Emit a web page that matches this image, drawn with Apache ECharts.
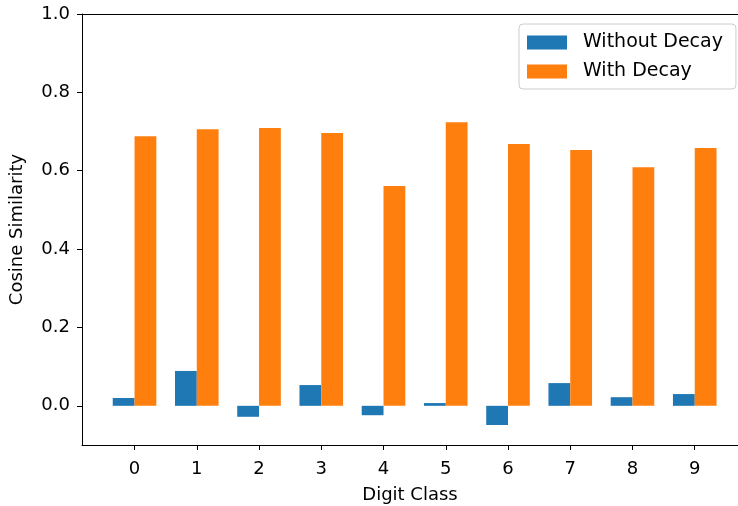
<!DOCTYPE html>
<html>
<head>
<meta charset="utf-8">
<script src="https://cdn.jsdelivr.net/npm/echarts@6/dist/echarts.min.js"></script>
<style>html,body{margin:0;padding:0;background:#fff;}#c{width:738px;height:506px;}</style>
</head>
<body>
<div id="c"></div>
<script>
const categories = [0, 1, 2, 3, 4, 5, 6, 7, 8, 9];
const withoutDecay = [0.020, 0.089, -0.028, 0.053, -0.024, 0.007, -0.049, 0.058, 0.022, 0.030];
const withDecay = [0.688, 0.706, 0.709, 0.696, 0.561, 0.724, 0.668, 0.653, 0.609, 0.658];
const yTicks = [0.0, 0.2, 0.4, 0.6, 0.8, 1.0];
const xTicks = categories;

const font = 'DejaVu Sans';
const xMin = -0.844, xMax = 9.695;
const chart = echarts.init(document.getElementById('c'), null, {renderer: 'canvas'});
chart.setOption({
  animation: false,
  backgroundColor: '#fff',
  grid: {left: 82, top: 14, right: 0, height: 431, show: false, containLabel: false, outerBoundsMode: 'none'},
  legend: {
    orient: 'vertical', left: 519, top: 24,
    padding: [9, 13, 8, 8],
    itemWidth: 40, itemHeight: 14, itemGap: 10,
    icon: 'rect',
    borderColor: '#cccccc', borderWidth: 1, borderRadius: 4,
    backgroundColor: 'rgba(255,255,255,0.8)',
    textStyle: {fontFamily: font, fontSize: 19, color: '#000', padding: [0, 0, 0, 11]},
    data: ['Without Decay', 'With Decay']
  },
  xAxis: [{
    type: 'value', min: xMin, max: xMax,
    name: 'Digit Class', nameLocation: 'middle', nameGap: 41,
    nameTextStyle: {fontFamily: font, fontSize: 18, color: '#000'},
    axisLine: {show: true, onZero: false, lineStyle: {color: '#000', width: 1}},
    axisTick: {show: true, length: 5, lineStyle: {color: '#000'}, customValues: xTicks},
    axisLabel: {fontFamily: font, fontSize: 18, color: '#000', margin: 15, customValues: xTicks, formatter: v => String(Math.round(v))},
    splitLine: {show: false}
  }, {
    type: 'value', min: xMin, max: xMax, position: 'top',
    axisLine: {show: true, onZero: false, lineStyle: {color: '#000', width: 1}},
    axisTick: {show: false}, axisLabel: {show: false}, splitLine: {show: false}
  }],
  yAxis: {
    type: 'value', min: -0.1, max: 1.0,
    name: 'Cosine Similarity', nameLocation: 'middle', nameGap: 56, nameRotate: 90,
    nameTextStyle: {fontFamily: font, fontSize: 18, color: '#000'},
    axisLine: {show: true, onZero: false, lineStyle: {color: '#000', width: 1}},
    axisTick: {show: true, length: 5, lineStyle: {color: '#000'}, customValues: yTicks},
    axisLabel: {fontFamily: font, fontSize: 18, color: '#000', margin: 12, customValues: yTicks, formatter: v => v.toFixed(1)},
    splitLine: {show: false}
  },
  series: [
    {name: 'Without Decay', type: 'bar', barWidth: 21.8, barGap: '0%', itemStyle: {color: '#1f77b4'},
     data: categories.map((c, i) => [c, withoutDecay[i]])},
    {name: 'With Decay', type: 'bar', barWidth: 21.8, barGap: '0%', itemStyle: {color: '#ff7f0e'},
     data: categories.map((c, i) => [c, withDecay[i]])}
  ]
});
</script>
</body>
</html>
